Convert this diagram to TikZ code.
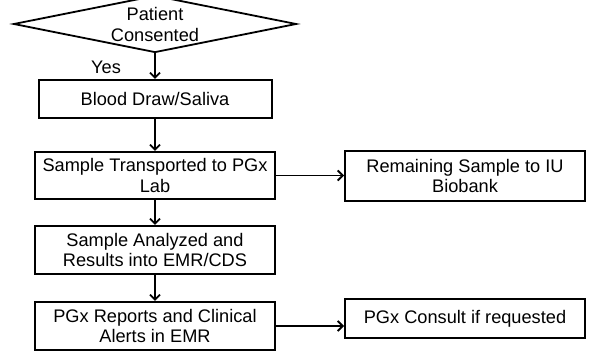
\documentclass[tikz,border=0pt]{standalone}
\usepackage{fontspec}
\setmainfont{Liberation Sans}
\usetikzlibrary{shapes.geometric,arrows.meta}
\begin{document}
\begin{tikzpicture}[x=1pt,y=-1pt,
  every node/.style={font=\fontsize{18.2}{20.5}\selectfont},
  box/.style={draw,line width=2pt,rectangle,inner sep=0pt,align=center},
  conn/.style={line width=1.8pt,-{Straight Barb[length=5pt,width=10pt,line width=1.8pt]}},
  ]
\clip (0,0) rectangle (592,352);
\fill[white] (0,0) rectangle (592,352);
\node[draw,line width=1.8pt,shape=diamond,minimum width=283pt,minimum height=57pt,inner sep=0pt] (consent) at (155,24) {};
\node[align=center,inner sep=0pt] (consenttext) at (155,24.5) {Patient\\Consented};
\node[inner sep=0pt] (yes) at (106,67) {Yes};
\node[box,minimum width=233pt,minimum height=38pt] (blood) at (155,99) {Blood Draw/Saliva};
\node[box,minimum width=240pt,minimum height=47pt] (transport) at (155,175.5) {Sample Transported to PGx\\Lab};
\node[box,minimum width=240pt,minimum height=48pt] (analyzed) at (155,250) {Sample Analyzed and\\Results into EMR/CDS};
\node[box,minimum width=240pt,minimum height=48pt] (reports) at (155,326) {PGx Reports and Clinical\\Alerts in EMR};
\node[box,minimum width=240pt,minimum height=50pt] (biobank) at (465,176) {Remaining Sample to IU\\Biobank};
\node[box,minimum width=240pt,minimum height=39pt] (consult) at (465,318.5) {PGx Consult if requested};
\draw[conn] (consent.south) -- (blood.north);
\draw[conn] (blood) -- (transport);
\draw[conn] (transport) -- (analyzed);
\draw[conn] (analyzed) -- (reports);
\draw[conn] (transport.east) -- (biobank.west |- transport.east);
\draw[conn] (reports.east) -- (consult.west |- reports.east);
\end{tikzpicture}
\end{document}
